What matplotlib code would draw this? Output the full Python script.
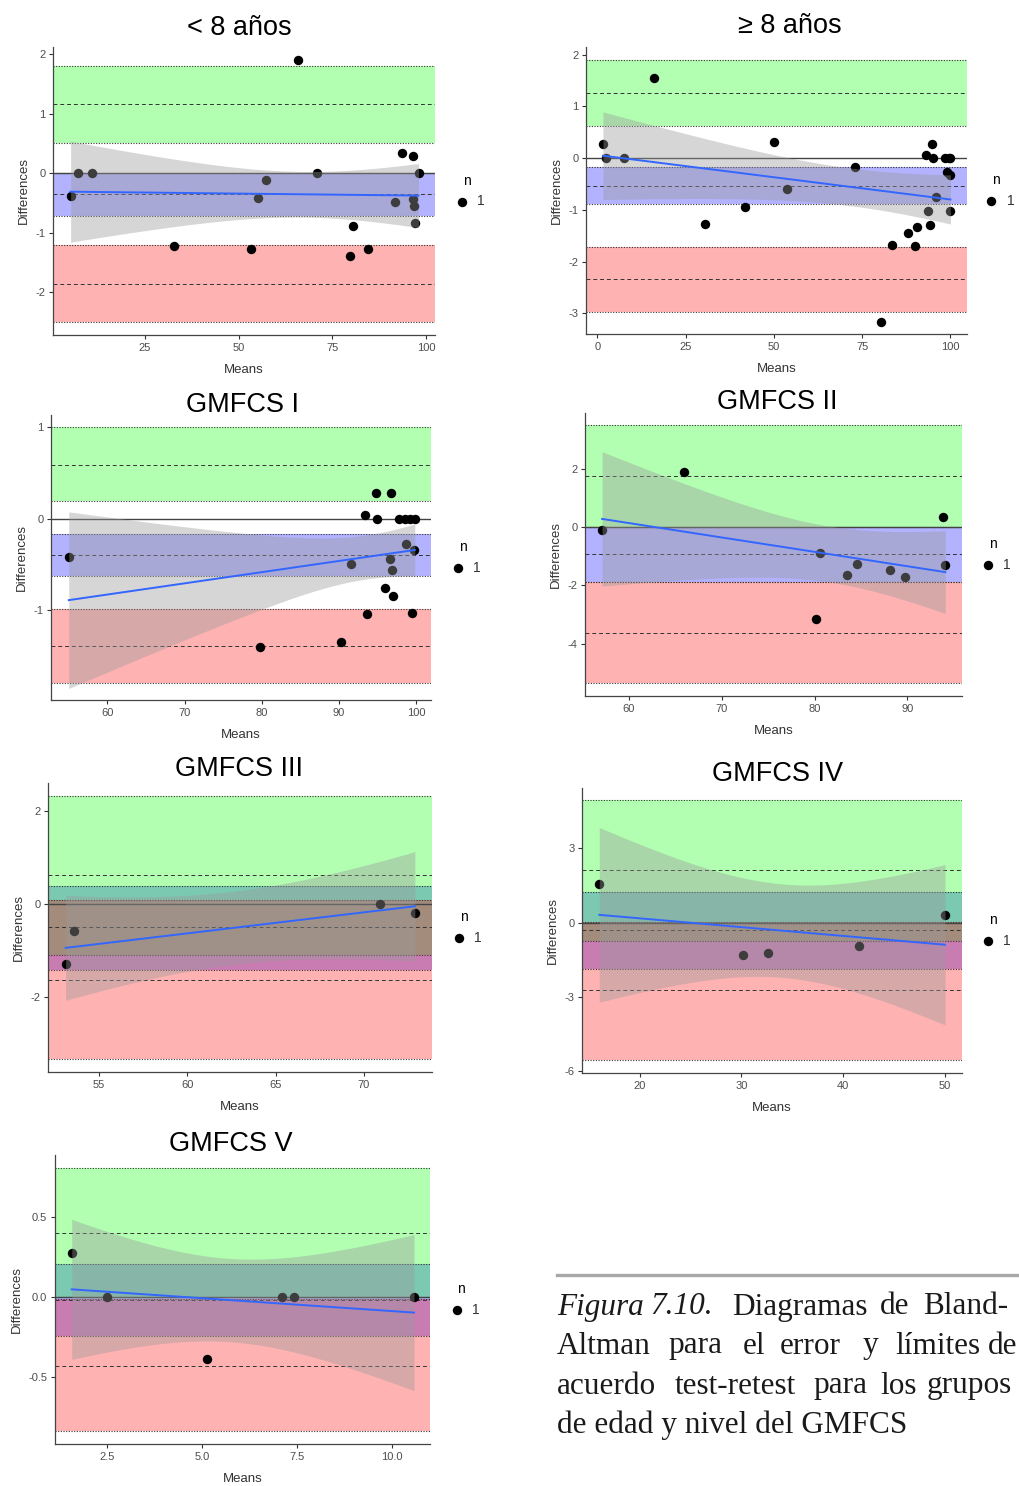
import math

import matplotlib

matplotlib.use("Agg")
import matplotlib.pyplot as plt
import numpy as np

W, H = 1019, 1486

# < 8 años
LT8_MEANS = [5.2, 7.3, 10.8, 32.7, 53.2, 55.1, 57.2, 65.9, 70.9, 79.7, 80.6, 84.6,
             91.7, 93.7, 96.6, 96.6, 96.9, 97.1, 98.0]
LT8_DIFFS = [-0.39, 0.0, 0.0, -1.22, -1.28, -0.42, -0.11, 1.90, 0.0, -1.40, -0.88, -1.27,
             -0.48, 0.34, 0.29, -0.44, -0.56, -0.83, 0.0]
LT8_LOA = [1.156, -0.35, -1.86]                       # upper, bias, lower
LT8_CI = [(0.505, 1.80), (-0.72, 0.0), (-2.50, -1.21)]

# >= 8 años
GE8_MEANS = [1.6, 2.5, 7.5, 16.0, 30.4, 41.8, 50.1, 53.6, 72.9, 80.4, 83.5, 88.1, 89.9,
             90.4, 93.2, 93.7, 94.2, 94.9, 95.1, 96.0, 98.5, 98.9, 99.6, 99.8, 100.0, 99.8]
GE8_DIFFS = [0.28, 0.0, 0.0, 1.56, -1.28, -0.95, 0.32, -0.59, -0.17, -3.16, -1.67, -1.45,
             -1.70, -1.34, 0.06, -1.03, -1.30, 0.28, 0.0, -0.75, 0.0, -0.26, 0.0, -0.33,
             0.0, -1.02]
GE8_LOA = [1.27, -0.53, -2.34]
GE8_CI = [(0.63, 1.89), (-0.89, -0.17), (-2.97, -1.71)]

# GMFCS I
G1_MEANS = [55.0, 79.7, 90.3, 91.6, 93.4, 93.6, 94.8, 94.9, 95.9, 96.6, 96.7, 96.9, 97.0,
            97.8, 98.7, 98.5, 99.2, 99.5, 99.7, 99.8]
G1_DIFFS = [-0.42, -1.40, -1.35, -0.49, 0.04, -1.04, 0.28, 0.0, -0.76, -0.44, 0.28, -0.56,
            -0.84, 0.0, -0.28, 0.0, 0.0, -1.03, -0.34, 0.0]
G1_LOA = [0.59, -0.40, -1.39]
G1_CI = [(0.19, 1.0), (-0.63, -0.165), (-1.79, -0.99)]

# GMFCS II
G2_MEANS = [57.1, 65.9, 80.2, 80.6, 83.5, 84.6, 88.1, 89.8, 93.8, 94.1]
G2_DIFFS = [-0.11, 1.90, -3.17, -0.89, -1.66, -1.27, -1.48, -1.71, 0.34, -1.31]
G2_LOA = [1.76, -0.93, -3.62]
G2_CI = [(0.02, 3.52), (-1.89, 0.02), (-5.36, -1.89)]

# GMFCS III
G3_MEANS = [53.1, 53.6, 70.9, 72.9]
G3_DIFFS = [-1.29, -0.59, 0.0, -0.19]
G3_LOA = [0.62, -0.50, -1.63]
G3_CI = [(-1.11, 2.32), (-1.43, 0.39), (-3.33, 0.086)]

# GMFCS IV
G4_MEANS = [16.03, 30.2, 32.6, 41.6, 50.03]
G4_DIFFS = [1.55, -1.30, -1.23, -0.96, 0.32]
G4_LOA = [2.13, -0.31, -2.73]
G4_CI = [(-0.73, 4.95), (-1.86, 1.23), (-5.56, 0.04)]

# GMFCS V
G5_MEANS = [1.58, 2.51, 5.13, 7.10, 7.43, 10.58]
G5_DIFFS = [0.275, 0.0, -0.39, 0.0, 0.0, 0.0]
G5_LOA = [0.40, -0.018, -0.433]
G5_CI = [(0.0, 0.804), (-0.242, 0.206), (-0.8375, -0.0125)]

TITLES = ["< 8 años", "\u2265 8 años", "GMFCS I", "GMFCS II", "GMFCS III", "GMFCS IV", "GMFCS V"]

# CI bands: upper LoA, bias, lower LoA (blue is painted first, then green, then red)
BAND_COLORS = ["#00ff00", "#0000ff", "#ff0000"]
BAND_ORDER = [1, 0, 2]
LINE_DARK = "#333333"

# layout in pixels: axes (left, top, right, bottom), title (centre x, baseline y)
LAYOUT = [
    dict(box=(53, 47, 435, 335), title=(239, 35), xlim=(0.5, 102.4), ylim=(-2.72, 2.12),
         xticks=[25, 50, 75, 100], yticks=[-2, -1, 0, 1, 2]),
    dict(box=(586, 47, 967, 334), title=(790, 33), xlim=(-3.2, 104.7), ylim=(-3.40, 2.15),
         xticks=[0, 25, 50, 75, 100], yticks=[-3, -2, -1, 0, 1, 2], legend_x=1.02),
    dict(box=(51, 415, 431, 700), title=(243, 412), xlim=(52.7, 101.9), ylim=(-1.98, 1.135),
         xticks=[60, 70, 80, 90, 100], yticks=[-1, 0, 1]),
    dict(box=(585, 413, 962, 696), title=(777, 409), xlim=(55.26, 95.9), ylim=(-5.80, 3.92),
         xticks=[60, 70, 80, 90], yticks=[-4, -2, 0, 2], legend_x=1.025),
    dict(box=(48, 783, 432, 1072), title=(239, 776), xlim=(52.1, 73.87), ylim=(-3.62, 2.6),
         xticks=[55, 60, 65, 70], yticks=[-2, 0, 2]),
    dict(box=(582, 788, 962, 1073), title=(778, 781), xlim=(14.33, 51.7), ylim=(-6.07, 5.44),
         xticks=[20, 30, 40, 50], yticks=[-6, -3, 0, 3], legend_x=1.025),
    dict(box=(55, 1155, 430, 1444), title=(231, 1151), xlim=(1.14, 11.0), ylim=(-0.919, 0.8875),
         xticks=[2.5, 5.0, 7.5, 10.0], yticks=[-0.5, 0.0, 0.5], fmt="{:.1f}"),
]

CAPTION_LINES = [
    [("Figura", 557, True), ("7.10.", 650, True), ("Diagramas", 732, False),
     ("de", 880, False), ("Bland-", 923, False)],
    [("Altman", 557, False), ("para", 668, False), ("el", 743, False), ("error", 780, False),
     ("y", 863, False), ("límites", 895, False), ("de", 988, False)],
    [("acuerdo", 557, False), ("test-retest", 675, False), ("para", 813, False),
     ("los", 880, False), ("grupos", 927, False)],
    [("de edad y nivel del GMFCS", 557, False)],
]
CAPTION_Y = [1307, 1346, 1386, 1425]


def t_quantile_975(df):
    t = np.linspace(0, 80, 400001)
    c = math.gamma((df + 1) / 2) / (math.sqrt(df * math.pi) * math.gamma(df / 2))
    pdf = c * (1 + t ** 2 / df) ** (-(df + 1) / 2)
    cdf = 0.5 + np.concatenate([[0.0], np.cumsum((pdf[1:] + pdf[:-1]) / 2 * np.diff(t))])
    return float(np.interp(0.975, cdf, t))


def lm_band(x, y):
    # same as geom_smooth(method = "lm"): fit with 95% confidence ribbon
    x = np.asarray(x, float)
    y = np.asarray(y, float)
    n = len(x)
    slope, intercept = np.polyfit(x, y, 1)
    resid = y - (intercept + slope * x)
    s = np.sqrt(resid @ resid / (n - 2))
    grid = np.linspace(x.min(), x.max(), 100)
    fit = intercept + slope * grid
    se = s * np.sqrt(1 / n + (grid - x.mean()) ** 2 / ((x - x.mean()) ** 2).sum())
    half = t_quantile_975(n - 2) * se
    return grid, fit, fit - half, fit + half


def draw_panel(fig, lay, title, means, diffs, loa, ci):
    left, top, right, bottom = lay["box"]
    ax = fig.add_axes([left / W, 1 - bottom / H, (right - left) / W, (bottom - top) / H])

    for i in BAND_ORDER:
        lo, hi = ci[i]
        ax.axhspan(lo, hi, color=BAND_COLORS[i], alpha=0.3, lw=0, zorder=1)
    for lo, hi in ci:
        for v in (lo, hi):
            ax.axhline(v, color=LINE_DARK, lw=0.8, ls=(0, (1, 1.4)), zorder=2)
    for v in loa:
        ax.axhline(v, color=LINE_DARK, lw=0.7, ls=(0, (4, 3)), zorder=2)
    ax.axhline(0, color="#444444", lw=1.0, zorder=2)

    ax.scatter(means, diffs, s=46, color="black", lw=0, zorder=3, label="1")

    grid, fit, lo, hi = lm_band(means, diffs)
    ax.fill_between(grid, lo, hi, color="#999999", alpha=0.4, lw=0, zorder=4)
    ax.plot(grid, fit, color="#3366FF", lw=1.4, zorder=5)

    ax.set_xlim(*lay["xlim"])
    ax.set_ylim(*lay["ylim"])
    fmt = lay.get("fmt", "{:g}")
    ax.set_xticks(lay["xticks"], [fmt.format(v) for v in lay["xticks"]])
    ax.set_yticks(lay["yticks"], [fmt.format(v) for v in lay["yticks"]])
    ax.tick_params(labelsize=8, labelcolor="#4d4d4d", color=LINE_DARK, length=3, width=0.8, pad=2.5)
    for side in ("top", "right"):
        ax.spines[side].set_visible(False)
    for side in ("left", "bottom"):
        ax.spines[side].set_color("#444444")
        ax.spines[side].set_linewidth(0.9)
    ax.set_xlabel("Means", fontsize=9.5, color="#333333", labelpad=8)
    ax.set_ylabel("Differences", fontsize=9.5, color="#333333", labelpad=4)

    ax.legend(title="n", loc="center left", bbox_to_anchor=(lay.get("legend_x", 1.027), 0.5),
              frameon=False, fontsize=10, title_fontsize=10, labelcolor="#333333",
              handletextpad=0.1, borderaxespad=0, borderpad=0.2)

    tx, ty = lay["title"]
    fig.text(tx / W, 1 - ty / H, title, ha="center", va="baseline", fontsize=19.5,
             family=["Liberation Sans Narrow", "Liberation Sans", "DejaVu Sans"])
    return ax


def draw_caption(fig):
    fig.add_artist(plt.Line2D([557 / W, 1.0], [1 - 1274.5 / H] * 2, color="#a8a8a8", lw=2.4))
    for words, y in zip(CAPTION_LINES, CAPTION_Y):
        for word, x, italic in words:
            fig.text(x / W, 1 - y / H, word, ha="left", va="center", fontsize=22.5,
                     style="italic" if italic else "normal",
                     family=["Liberation Serif", "DejaVu Serif"], color="#1a1a1a")


def main():
    plt.rcParams["font.family"] = ["Liberation Sans", "DejaVu Sans"]
    fig = plt.figure(figsize=(W / 100, H / 100), dpi=100)
    panels = [
        (LT8_MEANS, LT8_DIFFS, LT8_LOA, LT8_CI),
        (GE8_MEANS, GE8_DIFFS, GE8_LOA, GE8_CI),
        (G1_MEANS, G1_DIFFS, G1_LOA, G1_CI),
        (G2_MEANS, G2_DIFFS, G2_LOA, G2_CI),
        (G3_MEANS, G3_DIFFS, G3_LOA, G3_CI),
        (G4_MEANS, G4_DIFFS, G4_LOA, G4_CI),
        (G5_MEANS, G5_DIFFS, G5_LOA, G5_CI),
    ]
    for lay, title, (means, diffs, loa, ci) in zip(LAYOUT, TITLES, panels):
        draw_panel(fig, lay, title, means, diffs, loa, ci)
    draw_caption(fig)
    fig.savefig("out.png", dpi=100)
    plt.close(fig)


if __name__ == "__main__":
    main()
